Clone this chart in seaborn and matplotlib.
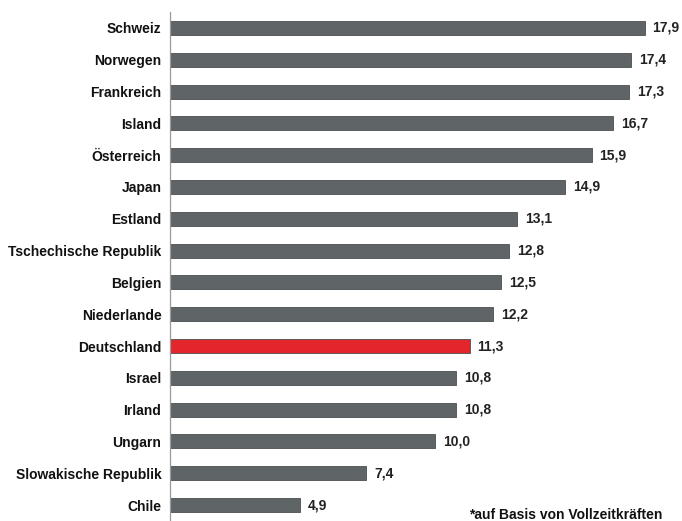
import matplotlib
matplotlib.use('Agg')
import matplotlib.pyplot as plt
import seaborn as sns
import pandas as pd
import numpy as np

# ─── DATA ─────────────────────────────────────────────────────────────────────
countries = ['Schweiz', 'Norwegen', 'Frankreich', 'Island', 'Österreich',
             'Japan', 'Estland', 'Tschechische Republik', 'Belgien',
             'Niederlande', 'Deutschland', 'Israel', 'Irland', 'Ungarn',
             'Slowakische Republik', 'Chile']
values = [17.9, 17.4, 17.3, 16.7, 15.9, 14.9, 13.1, 12.8, 12.5, 12.2,
          11.3, 10.8, 10.8, 10.0, 7.4, 4.9]
highlight = 'Deutschland'
footnote = '*auf Basis von Vollzeitkräften'

df = pd.DataFrame({'country': countries, 'value': values})
GREY, RED = '#5f6466', '#e3262b'
palette = {c: (RED if c == highlight else GREY) for c in countries}

# ─── PLOT ─────────────────────────────────────────────────────────────────────
sns.set_style('white')
plt.rcParams['font.family'] = ['Liberation Sans', 'DejaVu Sans']
plt.rcParams['font.weight'] = 'bold'

fig = plt.figure(figsize=(6.82, 5.21), dpi=100)
ax = fig.add_axes([0.249, 0.0, 0.739, 0.977])

sns.barplot(data=df, x='value', y='country', hue='country', palette=palette,
            legend=False, width=0.44, edgecolor='#4a4e50', linewidth=0.6,
            saturation=1, ax=ax)

for i, v in enumerate(values):
    ax.text(v + 0.3, i, f'{v:.1f}'.replace('.', ','), va='center',
            ha='left', fontsize=10, fontweight='bold', color='#222222')

ax.set_xlim(0, 19)
ax.set_ylim(15.12, -0.5)
ax.set_xlabel('')
ax.set_ylabel('')
ax.set_xticks([])
ax.tick_params(axis='y', which='major', length=0, labelsize=10,
               labelcolor='#111111', pad=6)
ax.set_yticks(np.arange(-0.5, len(countries), 1), minor=True)
ax.tick_params(axis='y', which='minor', length=4, width=0.8,
               color='#9a9a9a', direction='out')
for s in ['top', 'right', 'bottom']:
    ax.spines[s].set_visible(False)
ax.spines['left'].set_color('#9a9a9a')
ax.spines['left'].set_linewidth(0.9)

fig.text(0.688, 0.011, footnote, fontsize=10, fontweight='bold',
         color='#111111', ha='left', va='center')

plt.savefig('out.png', dpi=100)
